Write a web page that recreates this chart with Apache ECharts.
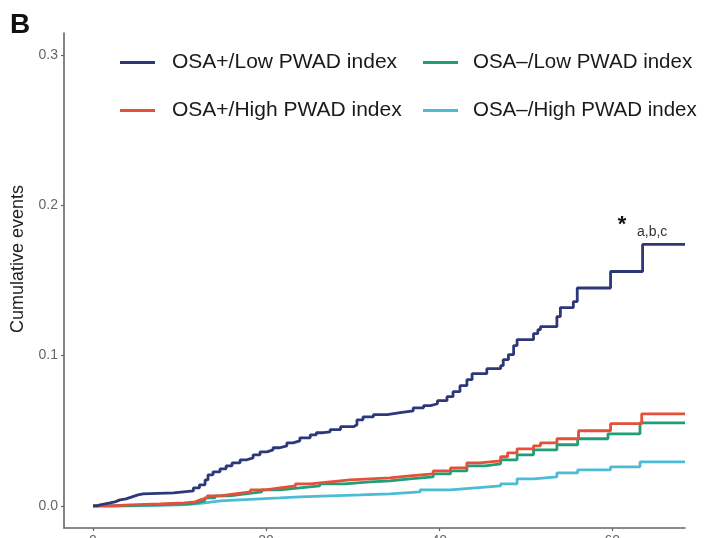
<!DOCTYPE html>
<html>
<head>
<meta charset="utf-8">
<script src="https://cdn.jsdelivr.net/npm/echarts@6/dist/echarts.min.js"></script>
<style>
  html, body { margin: 0; padding: 0; background: #ffffff; }
  #chart { width: 706px; height: 538px; }
</style>
</head>
<body>
<div id="chart"></div>
<script>
// Kaplan-Meier style cumulative event curves: [time, cumulative events]
const osaPosLow = [
  [0, 0], [0.46, 0.0007], [0.81, 0.0013], [1.39, 0.002], [1.97, 0.0027], [2.54, 0.004],
  [3.12, 0.0047], [3.82, 0.006], [4.51, 0.0073], [5.2, 0.008], [5.78, 0.0087],
  [9.3, 0.01], [11.6, 0.012], [12.3, 0.014], [12.95, 0.0173], [13.29, 0.0207],
  [13.87, 0.0227], [14.68, 0.0247], [15.38, 0.0267], [16.07, 0.0287], [17.0, 0.0307],
  [17.8, 0.032], [18.5, 0.034], [19.3, 0.036], [20.1, 0.0373], [20.8, 0.0387],
  [21.6, 0.04], [22.4, 0.042], [23.1, 0.0433], [23.9, 0.0453], [25.1, 0.0473],
  [25.8, 0.0487], [26.6, 0.0493], [27.4, 0.0507], [28.6, 0.0527], [30.1, 0.054],
  [30.5, 0.0573], [31.2, 0.0593], [32.4, 0.0607], [34.0, 0.062], [35.5, 0.0633],
  [37.0, 0.0653], [38.2, 0.0667], [39.0, 0.068], [39.8, 0.07], [40.9, 0.0727],
  [41.6, 0.076], [42.4, 0.08], [43.2, 0.084], [43.8, 0.088], [45.5, 0.0913],
  [47.1, 0.0933], [47.4, 0.0973], [48.0, 0.1007], [48.6, 0.1067], [49.0, 0.1107],
  [50.9, 0.1147], [51.4, 0.1173], [51.7, 0.1193], [53.6, 0.126], [54.0, 0.132],
  [55.5, 0.136], [55.95, 0.145], [59.8, 0.156], [63.5, 0.174], [68.4, 0.174]
];
const osaPosHigh = [
  [0, 0], [2.0, 0.0007], [4.3, 0.0013], [7.7, 0.002], [10.6, 0.0027], [11.8, 0.004],
  [12.4, 0.0053], [13.2, 0.0067], [14.7, 0.008], [16.4, 0.0093], [18.2, 0.0107],
  [19.9, 0.012], [21.6, 0.0133], [23.4, 0.0147], [25.1, 0.016], [27.4, 0.0173],
  [29.7, 0.018], [32.0, 0.0187], [34.3, 0.02], [36.6, 0.0213], [39.3, 0.0233],
  [41.3, 0.0253], [43.2, 0.0287], [44.7, 0.03], [47.1, 0.0327], [47.9, 0.0353],
  [49.0, 0.038], [50.9, 0.04], [51.7, 0.042], [53.6, 0.0447], [56.1, 0.05],
  [59.8, 0.0547], [63.4, 0.0613], [68.4, 0.0613]
];
const osaNegLow = [
  [0, 0], [3.1, 0.0007], [7.7, 0.0013], [11.2, 0.002], [12.0, 0.0033], [12.9, 0.0053],
  [14.1, 0.0067], [15.8, 0.008], [17.6, 0.0093], [19.5, 0.0107], [21.6, 0.012],
  [23.9, 0.0133], [26.2, 0.0147], [29.1, 0.016], [32.0, 0.0167], [34.3, 0.018],
  [36.6, 0.0193], [39.3, 0.0213], [41.3, 0.0233], [43.2, 0.0267], [45.3, 0.028],
  [47.1, 0.0307], [49.0, 0.034], [50.9, 0.0373], [53.6, 0.0407], [56.0, 0.0447],
  [59.5, 0.048], [63.2, 0.0553], [68.4, 0.0553]
];
const osaNegHigh = [
  [0, 0], [4.3, 0.0007], [10.1, 0.0013], [11.8, 0.002], [12.9, 0.0033], [14.7, 0.004],
  [17.0, 0.0047], [19.3, 0.0053], [21.6, 0.006], [23.9, 0.0067], [27.4, 0.0073],
  [30.9, 0.008], [34.3, 0.0093], [37.8, 0.0107], [41.3, 0.012], [44.2, 0.0133],
  [47.1, 0.0147], [49.0, 0.018], [50.9, 0.0193], [53.6, 0.022], [56.0, 0.024],
  [59.8, 0.026], [63.2, 0.0293], [68.4, 0.0293]
];

const seriesNames = [
  'OSA+/Low PWAD index', 'OSA\u2013/Low PWAD index',
  'OSA+/High PWAD index', 'OSA\u2013/High PWAD index'
];
const xTicks = [0, 20, 40, 60];
const yTicks = [0, 0.1, 0.2, 0.3];

const colors = {
  navy: '#2c3878',
  red: '#e4503a',
  green: '#1f9e78',
  cyan: '#4cbcd6'
};
const FONT = '"Liberation Sans", Arial, sans-serif';
const axisGray = '#666666';

const chart = echarts.init(document.getElementById('chart'), null, { renderer: 'canvas' });

function legendAt(name, left, top, fontSize, gap) {
  return {
    data: [name],
    left: left,
    top: top,
    orient: 'horizontal',
    icon: 'rect',
    itemWidth: 35,
    itemHeight: 3,
    padding: 0,
    selectedMode: false,
    textStyle: {
      fontFamily: FONT,
      fontSize: fontSize,
      color: '#1a1a1a',
      padding: [0, 0, 0, gap]
    }
  };
}

function stepSeries(name, data, color, z) {
  return {
    name: name,
    type: 'line',
    step: 'end',
    data: data,
    symbol: 'none',
    z: z,
    lineStyle: { color: color, width: 2.8 },
    itemStyle: { color: color },
    emphasis: { disabled: true },
    animation: false
  };
}

chart.setOption({
  backgroundColor: '#ffffff',
  animation: false,
  grid: {
    left: 64, right: 21, top: 33, bottom: 10,
    outerBoundsMode: 'none'
  },
  legend: [
    legendAt(seriesNames[0], 120, 52, 21, 12),
    legendAt(seriesNames[1], 423, 52, 20.5, 10),
    legendAt(seriesNames[2], 120, 100, 21, 12),
    legendAt(seriesNames[3], 423, 100, 20.5, 10)
  ],
  xAxis: {
    type: 'value',
    min: -3.35,
    max: 68.4,
    splitLine: { show: false },
    axisLine: { show: true, onZero: false, lineStyle: { color: axisGray, width: 1.6 } },
    axisTick: { show: true, length: 3, customValues: xTicks, lineStyle: { color: axisGray, width: 1.2 } },
    axisLabel: {
      customValues: xTicks,
      margin: 6,
      fontFamily: FONT,
      fontSize: 14,
      color: '#666666'
    }
  },
  yAxis: {
    type: 'value',
    min: -0.0147,
    max: 0.3147,
    splitLine: { show: false },
    axisLine: { show: true, onZero: false, lineStyle: { color: axisGray, width: 1.6 } },
    axisTick: { show: true, length: 3, customValues: yTicks, lineStyle: { color: axisGray, width: 1.2 } },
    axisLabel: {
      customValues: yTicks,
      margin: 6,
      fontFamily: FONT,
      fontSize: 14,
      color: '#666666',
      formatter: function (v) { return v.toFixed(1); }
    }
  },
  series: [
    stepSeries(seriesNames[3], osaNegHigh, colors.cyan, 2),
    stepSeries(seriesNames[1], osaNegLow, colors.green, 3),
    stepSeries(seriesNames[2], osaPosHigh, colors.red, 4),
    stepSeries(seriesNames[0], osaPosLow, colors.navy, 5)
  ],
  graphic: [
    {
      type: 'text',
      left: 10, top: 11,
      style: { text: 'B', font: 'bold 28px ' + FONT, fill: '#111111' }
    },
    {
      type: 'text',
      x: 18, y: 259,
      rotation: Math.PI / 2,
      style: {
        text: 'Cumulative events',
        font: '18px ' + FONT,
        fill: '#222222',
        align: 'center',
        verticalAlign: 'middle'
      }
    },
    {
      type: 'text',
      x: 622, y: 225,
      style: { text: '*', font: 'bold 22px ' + FONT, fill: '#111111', align: 'center', verticalAlign: 'middle' }
    },
    {
      type: 'text',
      x: 637, y: 232,
      style: { text: 'a,b,c', font: '14px ' + FONT, fill: '#333333', align: 'left', verticalAlign: 'middle' }
    }
  ]
});
</script>
</body>
</html>
